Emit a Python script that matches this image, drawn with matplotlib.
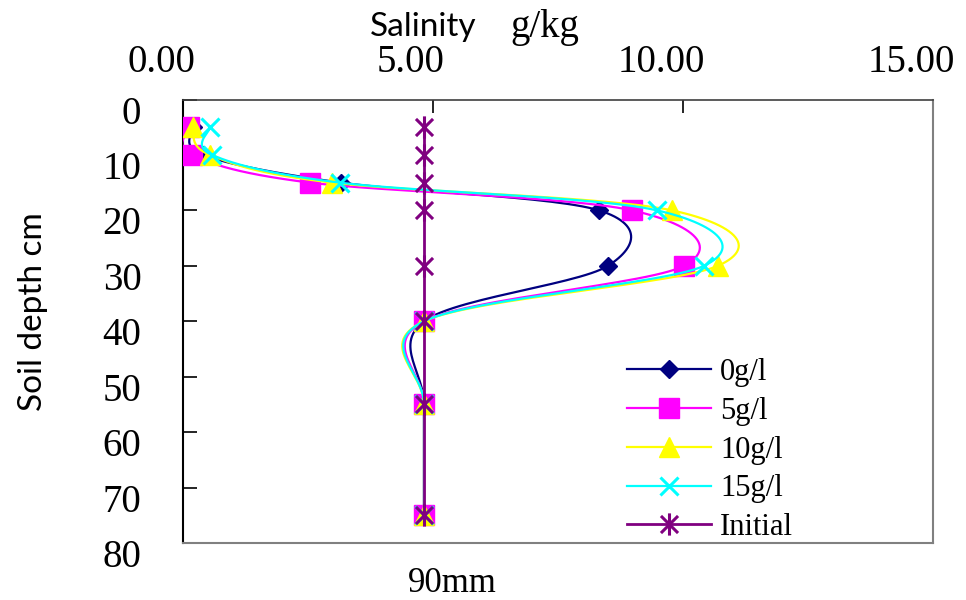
import numpy as np
import matplotlib
matplotlib.use("Agg")
import matplotlib.pyplot as plt
from matplotlib.path import Path
import matplotlib.transforms as mtransforms

# ---- data ----
depths = [5, 10, 15, 20, 30, 40, 55, 75]
s0 = [0.20, 0.40, 3.16, 8.32, 8.50, 4.82, 4.82, 4.82]
s5 = [0.12, 0.18, 2.54, 8.98, 10.02, 4.82, 4.82, 4.82]
s10 = [0.20, 0.54, 2.98, 9.78, 10.70, 4.82, 4.82, 4.82]
s15 = [0.54, 0.58, 3.14, 9.48, 10.42, 4.82, 4.82, 4.82]
initial = [4.82, 4.82, 4.82, 4.82, 4.82, 4.82, 4.82, 4.82]
labels = ["0g/l", "5g/l", "10g/l", "15g/l", "Initial"]
xticks = [0, 5, 10, 15]
xticklabels = ["0.00", "5.00", "10.00", "15.00"]
yticks = [0, 10, 20, 30, 40, 50, 60, 70, 80]

colors = ["#000080", "#FF00FF", "#FFFF00", "#00FFFF", "#800080"]
star = Path([(-1, -1), (1, 1), (-1, 1), (1, -1), (0, -1.3), (0, 1.3)],
            [Path.MOVETO, Path.LINETO, Path.MOVETO, Path.LINETO, Path.MOVETO, Path.LINETO])
markers = ["D", "s", "^", "x", star]
msizes = [9.5, 14, 15, 13, 16]
lws = [1.6, 1.6, 1.6, 1.6, 2.0]

serif = "Liberation Serif"
sans = "Lato"

fig = plt.figure(figsize=(9.66, 6.0), dpi=100)
ax = fig.add_axes([183/966, 1-543/600, (933-183)/966, (543-99.5)/600])
ax.set_xlim(0, 15)
ax.set_ylim(80, 0)


def smooth(xs, ys, n=30):
    pts = ax.transData.transform(np.column_stack([xs, ys]))
    P = np.vstack([pts[0], pts, pts[-1]])
    out = []
    for i in range(1, len(P) - 2):
        p0, p1, p2, p3 = P[i-1], P[i], P[i+1], P[i+2]
        c1 = p1 + (p2 - p0) / 6.0
        c2 = p2 - (p3 - p1) / 6.0
        t = np.linspace(0, 1, n)[:, None]
        seg = ((1-t)**3)*p1 + 3*((1-t)**2)*t*c1 + 3*(1-t)*(t**2)*c2 + (t**3)*p2
        out.append(seg if i == 1 else seg[1:])
    out = np.vstack(out)
    return ax.transData.inverted().transform(out)


series = [s0, s5, s10, s15, initial]
for k, (vals, c, m, ms, lw, lab) in enumerate(zip(series, colors, markers, msizes, lws, labels)):
    curve = smooth(vals, depths)
    ax.plot(curve[:, 0], curve[:, 1], color=c, lw=lw, zorder=2+k)
    mew = 2.2 if k >= 3 else 1.0
    ax.plot(vals, depths, linestyle="none", marker=m, markersize=ms, color=c,
            markeredgecolor=c, markeredgewidth=mew, zorder=2+k)
    # legend proxy
    ax.plot([], [], color=c, lw=lw, marker=m, markersize=ms,
            markeredgecolor=c, markeredgewidth=mew, label=lab)

ax.xaxis.tick_top()
ax.set_xticks(xticks)
ax.set_xticklabels(xticklabels, fontfamily=serif, fontsize=28)
ax.set_yticks(yticks)
ax.set_yticklabels([str(v) for v in yticks], fontfamily=serif, fontsize=28)
ax.tick_params(axis="x", direction="in", length=9, width=1.2, pad=13, top=True, bottom=False)
ax.tick_params(axis="y", direction="in", length=10, width=1.2, pad=30)

dx = mtransforms.ScaledTranslation(-22/100, 0, fig.dpi_scale_trans)
for lbl in ax.get_xticklabels():
    lbl.set_transform(lbl.get_transform() + dx)
dy = mtransforms.ScaledTranslation(0, -10/100, fig.dpi_scale_trans)
for lbl in ax.get_yticklabels():
    lbl.set_transform(lbl.get_transform() + dy)

ax.spines["left"].set_color("black")
ax.spines["left"].set_linewidth(1.5)
ax.spines["top"].set_color("#404040")
ax.spines["top"].set_linewidth(1.2)
ax.spines["right"].set_color("#808080")
ax.spines["right"].set_linewidth(1.5)
ax.spines["bottom"].set_color("#808080")
ax.spines["bottom"].set_linewidth(1.5)

fig.text(370/966, 1-27/600, "Salinity", fontfamily=sans, fontsize=24, ha="left", va="center")
fig.text(510/966, 1-27/600, "g/kg", fontfamily=serif, fontsize=28, ha="left", va="center")
fig.text(33/966, 1-312/600, "Soil depth cm", fontfamily=sans, fontsize=24, rotation=90,
         ha="center", va="center")
fig.text(452/966, 1-583/600, "90mm", fontfamily=serif, fontsize=25, ha="center", va="center")

leg = ax.legend(loc="upper left", bbox_to_anchor=(627/966, 1-358/600),
                bbox_transform=fig.transFigure, frameon=False, borderpad=0,
                borderaxespad=0, handlelength=2.75, handletextpad=0.3,
                labelspacing=0.32, prop={"family": serif, "size": 22})

fig.savefig("out.png", dpi=100)
